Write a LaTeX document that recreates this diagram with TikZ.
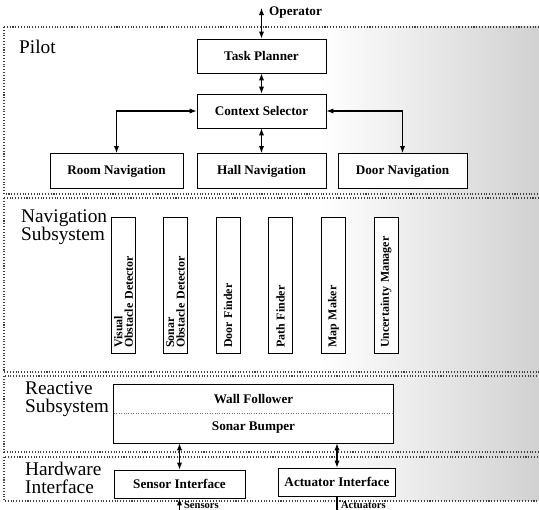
\documentclass[tikz,border=0pt]{standalone}
\usepackage{fontspec}
\setmainfont{Liberation Serif}
\usetikzlibrary{arrows.meta}

\begin{document}
\begin{tikzpicture}[x=0.02cm,y=-0.02cm,
  main node/.style={draw,fill=white,line width=0.5pt,minimum width=2.58cm,minimum height=0.68cm,
    font=\fontsize{7.5}{9}\selectfont\bfseries},
  side node/.style={draw,fill=white,line width=0.5pt,rotate=90,minimum width=2.7cm,minimum height=0.48cm,
    inner xsep=3pt,inner ysep=1.5pt,text width=2.5cm,align=left,font=\fontsize{6.8}{6}\selectfont\bfseries},
  reactive part/.style={minimum width=5.58cm,inner sep=0pt,font=\fontsize{7.5}{9}\selectfont\bfseries},
  layer/.style={draw=black!75,densely dotted,line width=0.6pt},
  layer label/.style={anchor=west,align=left,font=\fontsize{11}{10.5}\selectfont},
  small label/.style={font=\fontsize{7.5}{9}\selectfont\bfseries},
  link/.style={{Latex[length=4pt,width=3pt]}-{Latex[length=4pt,width=3pt]},line width=0.6pt}]

  \useasboundingbox (0,0) rectangle (539,510);

  % scanned halftone on the right
  \shade[left color=white,right color=black!18] (320,27) rectangle (539,501);

  % layers
  \draw[layer] (4,27) rectangle (560,194);
  \draw[layer] (4,198) rectangle (560,372);
  \draw[layer] (4,376) rectangle (560,452);
  \draw[layer] (4,457) rectangle (560,501);

  \node[layer label] (pilotlabel) at (13,47) {Pilot};
  \node[layer label] (navlabel) at (15,227) {Navigation\\Subsystem};
  \node[layer label] (reactlabel) at (19,399) {Reactive\\Subsystem};
  \node[layer label] (hwlabel) at (19,478) {Hardware\\Interface};

  % pilot
  \node[main node] (task) at (261.5,56) {Task Planner};
  \node[main node] (context) at (261.5,111) {Context Selector};
  \node[main node,minimum width=2.66cm,minimum height=0.7cm] (room) at (116.5,171) {Room Navigation};
  \node[main node,minimum height=0.7cm] (hall) at (261.5,171) {Hall Navigation};
  \node[main node,minimum height=0.7cm] (door) at (402.5,171) {Door Navigation};

  \coordinate (operator) at (261.5,8);
  \node[small label,anchor=west] (oplabel) at (263,13) {Operator};

  \path[] (operator) [link] edge (task.north);
  \path[] (task) [link] edge (context);
  \path[] (context) [link] edge (hall);
  \draw[link] (context.west) -| (room.north);
  \draw[link] (context.east) -| (door.north);

  % navigation subsystem
  \node[side node] (visual) at (123.5,285.5) {Visual\\Obstacle Detector};
  \node[side node] (sonar) at (175.5,285.5) {Sonar\\Obstacle Detector};
  \node[side node] (doorfinder) at (228,285.5) {Door Finder};
  \node[side node] (pathfinder) at (280.5,285.5) {Path Finder};
  \node[side node] (mapmaker) at (333.5,285.5) {Map Maker};
  \node[side node] (uncertainty) at (386,285.5) {Uncertainty Manager};

  % reactive subsystem
  \node[reactive part,minimum height=0.56cm] (wall) at (253.5,399) {};
  \node[reactive part,minimum height=0.6cm] (bumper) at (253.5,428) {};
  \filldraw[fill=white,line width=0.5pt] (wall.north west) rectangle (bumper.south east);
  \draw[black!55,densely dotted] (wall.south west) -- (wall.south east);
  \node[reactive part] at (wall) {Wall Follower};
  \node[reactive part] at (bumper) {Sonar Bumper};

  % hardware interface
  \node[main node,minimum width=2.62cm,minimum height=0.56cm] (sensor) at (179.5,484) {Sensor Interface};
  \node[main node,minimum width=2.32cm,minimum height=0.56cm] (actuator) at (337,482) {Actuator Interface};

  \draw[link] (bumper.south -| sensor.north) -- (sensor.north);
  \draw[link] (bumper.south -| actuator.north) -- (actuator.north);

  \coordinate (sensorsin) at (179.5,530);
  \coordinate (actuatorsout) at (337,530);
  \draw[-{Latex[length=4pt,width=3pt]},line width=0.6pt] (sensorsin) -- (sensor.south);
  \draw[-{Latex[length=4pt,width=3pt]},line width=0.6pt] (actuator.south) -- (actuatorsout);
  \node[font=\fontsize{6}{7}\selectfont\bfseries,anchor=base west,inner sep=1pt] (sensorslabel) at (182,508.5) {Sensors};
  \node[font=\fontsize{6}{7}\selectfont\bfseries,anchor=base west,inner sep=1pt] (actuatorslabel) at (339,508.5) {Actuators};
\end{tikzpicture}
\end{document}
